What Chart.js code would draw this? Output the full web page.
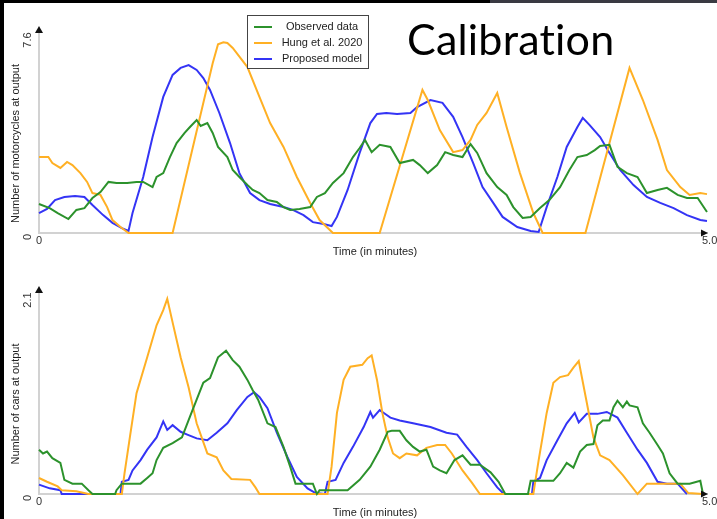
<!DOCTYPE html>
<html>
<head>
<meta charset="utf-8">
<script src="https://cdn.jsdelivr.net/npm/chart.js@4.4.1/dist/chart.umd.min.js"></script>
<style>
  html, body { margin: 0; padding: 0; background: #fff; }
  body { width: 717px; height: 519px; position: relative; overflow: hidden; }
  #barTop { position: absolute; left: 0; top: 0; width: 490px; height: 3px; background: #000; }
  #barTopRight { position: absolute; left: 490px; top: 0; width: 227px; height: 3px; background: #3a3a42; }
  #barLeft { position: absolute; left: 0; top: 0; width: 4px; height: 519px; background: #000; }
  #title { position: absolute; left: 407px; top: 17px; font-family: Lato, sans-serif; font-size: 43px; line-height: 43px;
           letter-spacing: 0.2px; font-variant-ligatures: none; font-feature-settings: "liga" 0; color: #000; }
  canvas { position: absolute; left: 0; }
  #moto { top: 0; }
  #cars { top: 260px; }
</style>
</head>
<body>
<canvas id="moto" width="717" height="260"></canvas>
<canvas id="cars" width="717" height="259"></canvas>
<div id="barTop"></div>
<div id="barTopRight"></div>
<div id="barLeft"></div>
<div id="title">Calibration</div>
<script>
// series labels and colours
const seriesNames = ['Observed data', 'Hung et al. 2020', 'Proposed model'];
const seriesColors = ['rgb(44,146,44)', 'rgb(255,176,36)', 'rgb(52,52,245)'];

// tick labels
const xTickLabels = ['0', '5.0'];
const motoYTicks = ['0', '7.6'];
const carYTicks = ['0', '2.1'];

// motorcycles at output: [time (min), count]
const motoObserved = [
  [0,1.12],[0.08,0.96],[0.14,0.77],[0.22,0.54],[0.28,0.89],[0.34,0.96],[0.40,1.35],[0.46,1.58],[0.52,1.97],[0.58,1.93],
  [0.66,1.93],[0.73,1.97],[0.78,1.97],[0.85,1.77],[0.88,2.16],[0.93,2.31],[0.98,2.93],[1.03,3.47],[1.09,3.86],[1.13,4.09],
  [1.18,4.36],[1.21,4.13],[1.26,4.24],[1.30,3.86],[1.34,3.32],[1.41,2.93],[1.45,2.43],[1.50,2.16],[1.56,1.85],[1.60,1.66],
  [1.65,1.54],[1.71,1.27],[1.78,1.20],[1.83,1.00],[1.88,0.89],[1.95,0.93],[2.03,1.00],[2.08,1.39],[2.14,1.54],[2.20,1.93],
  [2.28,2.31],[2.35,2.93],[2.40,3.28],[2.44,3.59],[2.49,3.12],[2.55,3.40],[2.63,3.32],[2.70,2.70],[2.80,2.82],[2.85,2.62],
  [2.91,2.31],[2.98,2.62],[3.04,3.12],[3.10,3.01],[3.17,2.93],[3.23,3.43],[3.28,3.09],[3.35,2.31],[3.43,1.77],[3.50,1.47],
  [3.55,1.00],[3.62,0.58],[3.68,0.62],[3.75,0.96],[3.82,1.27],[3.90,1.77],[3.97,2.43],[4.03,2.93],[4.10,3.01],[4.16,3.20],
  [4.20,3.36],[4.27,3.40],[4.33,2.55],[4.40,2.31],[4.48,2.16],[4.55,1.54],[4.63,1.66],[4.70,1.74],[4.78,1.47],[4.85,1.35],
  [4.93,1.35],[5.00,0.81]
];
const motoHung = [
  [0,2.93],[0.07,2.93],[0.10,2.70],[0.16,2.51],[0.21,2.74],[0.25,2.62],[0.31,2.31],[0.36,1.97],[0.40,1.54],[0.46,1.47],
  [0.51,1.00],[0.55,0.50],[0.61,0.23],[0.67,0],[1.00,0],[1.30,6.55],[1.34,7.28],[1.38,7.36],[1.41,7.33],[1.45,7.14],
  [1.56,6.40],[1.65,5.25],[1.73,4.24],[1.83,3.32],[1.93,2.16],[2.03,1.16],[2.10,0.50],[2.20,0],[2.55,0],[2.87,5.52],
  [2.91,5.13],[3.00,3.97],[3.10,3.12],[3.17,3.20],[3.23,3.59],[3.28,4.17],[3.35,4.63],[3.43,5.40],[3.50,4.09],[3.60,2.31],
  [3.70,0.77],[3.77,0],[4.09,0],[4.42,6.37],[4.52,5.13],[4.63,3.59],[4.70,2.43],[4.80,1.77],[4.87,1.47],[4.95,1.54],
  [5.00,1.50]
];
const motoProposed = [
  [0,0.77],[0.06,0.93],[0.12,1.27],[0.19,1.39],[0.27,1.43],[0.34,1.39],[0.40,1.08],[0.48,0.69],[0.55,0.39],[0.62,0.19],
  [0.67,0.08],[0.70,0.77],[0.78,2.16],[0.85,3.70],[0.93,5.25],[1.00,6.10],[1.06,6.37],[1.12,6.48],[1.18,6.29],[1.23,5.98],
  [1.28,5.52],[1.35,4.63],[1.43,3.47],[1.50,2.31],[1.58,1.54],[1.65,1.27],[1.73,1.12],[1.83,1.00],[1.90,0.89],[1.98,0.69],
  [2.05,0.42],[2.13,0.35],[2.19,0.27],[2.23,0.62],[2.31,1.66],[2.40,3.09],[2.48,4.24],[2.53,4.59],[2.60,4.63],[2.68,4.59],
  [2.78,4.63],[2.83,4.86],[2.93,5.13],[3.02,5.02],[3.10,4.48],[3.17,3.70],[3.25,2.70],[3.32,1.77],[3.40,1.16],[3.47,0.62],
  [3.58,0.23],[3.68,0.08],[3.74,0.04],[3.80,1.00],[3.88,2.16],[3.95,3.32],[4.03,4.09],[4.07,4.44],[4.12,4.17],[4.20,3.70],
  [4.27,3.09],[4.35,2.43],[4.45,1.85],[4.55,1.39],[4.65,1.16],[4.75,0.96],[4.85,0.69],[4.95,0.50],[5.00,0.46]
];

// cars at output: [time (min), count]
const carObserved = [
  [0,0.47],[0.03,0.43],[0.06,0.45],[0.10,0.38],[0.16,0.33],[0.19,0.15],[0.25,0.11],[0.32,0.11],[0.37,0.04],[0.40,0],
  [0.57,0],[0.58,0.04],[0.62,0.11],[0.76,0.11],[0.81,0.17],[0.85,0.22],[0.88,0.36],[0.93,0.49],[1.00,0.54],[1.07,0.60],
  [1.13,0.82],[1.18,1.00],[1.23,1.18],[1.28,1.23],[1.34,1.45],[1.40,1.52],[1.45,1.42],[1.50,1.35],[1.56,1.21],[1.60,1.10],
  [1.64,1.00],[1.71,0.75],[1.77,0.71],[1.83,0.50],[1.88,0.29],[1.92,0.11],[2.05,0.11],[2.08,0],[2.10,0.04],[2.31,0.04],
  [2.40,0.15],[2.48,0.29],[2.55,0.47],[2.61,0.66],[2.64,0.67],[2.70,0.67],[2.75,0.57],[2.80,0.50],[2.85,0.45],[2.90,0.47],
  [2.95,0.29],[3.00,0.25],[3.05,0.22],[3.11,0.36],[3.17,0.41],[3.23,0.31],[3.30,0.31],[3.38,0.23],[3.44,0.13],[3.49,0],
  [3.66,0],[3.68,0.14],[3.85,0.14],[3.90,0.22],[3.95,0.33],[4.00,0.28],[4.05,0.45],[4.10,0.52],[4.15,0.53],[4.18,0.73],
  [4.22,0.78],[4.27,0.78],[4.30,0.92],[4.33,0.99],[4.37,0.92],[4.40,0.98],[4.42,0.94],[4.48,0.92],[4.52,0.75],[4.57,0.65],
  [4.63,0.52],[4.67,0.43],[4.72,0.22],[4.78,0.11],[4.87,0.11],[4.95,0.14],[4.97,0]
];
const carHung = [
  [0,0.17],[0.06,0.13],[0.14,0.08],[0.17,0.04],[0.28,0.03],[0.37,0],[0.62,0],[0.64,0.22],[0.68,0.60],[0.73,1.07],
  [0.81,1.45],[0.88,1.79],[0.93,1.95],[0.96,2.07],[1.00,1.82],[1.06,1.45],[1.12,1.13],[1.18,0.75],[1.26,0.43],[1.33,0.39],
  [1.38,0.25],[1.44,0.16],[1.58,0.15],[1.62,0.07],[1.65,0],[2.16,0],[2.19,0.29],[2.23,0.86],[2.28,1.21],[2.33,1.35],
  [2.42,1.37],[2.46,1.44],[2.49,1.47],[2.53,1.21],[2.57,0.86],[2.61,0.60],[2.65,0.43],[2.70,0.38],[2.75,0.43],[2.83,0.41],
  [2.90,0.49],[2.98,0.52],[3.04,0.52],[3.09,0.43],[3.17,0.25],[3.24,0.12],[3.30,0],[3.70,0],[3.74,0.36],[3.80,0.86],
  [3.85,1.18],[3.90,1.24],[3.96,1.26],[4.00,1.34],[4.04,1.41],[4.10,0.97],[4.15,0.60],[4.20,0.41],[4.27,0.36],[4.37,0.20],
  [4.48,0],[4.55,0.11],[4.80,0.11],[4.86,0.01],[4.97,0]
];
const carProposed = [
  [0,0.10],[0.08,0.06],[0.16,0.04],[0.17,0],[0.61,0],[0.62,0.13],[0.67,0.15],[0.70,0.25],[0.76,0.36],[0.81,0.47],
  [0.88,0.60],[0.93,0.77],[0.96,0.68],[1.00,0.73],[1.06,0.66],[1.11,0.63],[1.18,0.59],[1.26,0.57],[1.33,0.65],[1.41,0.75],
  [1.48,0.89],[1.56,1.03],[1.61,1.08],[1.65,1.03],[1.71,0.91],[1.78,0.65],[1.86,0.39],[1.93,0.18],[2.01,0.06],[2.07,0.01],
  [2.14,0],[2.16,0.13],[2.22,0.15],[2.28,0.33],[2.35,0.50],[2.43,0.71],[2.48,0.87],[2.50,0.81],[2.55,0.89],[2.60,0.84],
  [2.63,0.81],[2.70,0.78],[2.80,0.75],[2.93,0.71],[3.05,0.65],[3.13,0.63],[3.20,0.50],[3.28,0.36],[3.35,0.22],[3.43,0.07],
  [3.48,0],[3.69,0],[3.70,0.13],[3.75,0.17],[3.80,0.36],[3.88,0.57],[3.95,0.75],[4.01,0.86],[4.04,0.76],[4.10,0.85],
  [4.18,0.85],[4.25,0.87],[4.33,0.81],[4.40,0.65],[4.48,0.47],[4.55,0.33],[4.63,0.13],[4.70,0.11],[4.78,0.11],[4.85,0]
];

const FONT = '"Liberation Sans", Arial, sans-serif';

// axis arrows, tick labels, axis titles and the boxed legend
const decor = {
  id: 'decor',
  afterDraw(chart, args, opts) {
    const {ctx, chartArea: a, scales: {x, y}} = chart;
    ctx.save();

    // y axis runs a bit past the plot top, then the arrow heads
    ctx.strokeStyle = '#d2d2d2';
    ctx.lineWidth = 2;
    ctx.beginPath();
    ctx.moveTo(a.left, a.top + 1);
    ctx.lineTo(a.left, a.top - 4);
    ctx.stroke();
    ctx.fillStyle = '#111';
    ctx.beginPath();
    ctx.moveTo(a.left - 4, a.top - 3);
    ctx.lineTo(a.left + 4, a.top - 3);
    ctx.lineTo(a.left, a.top - 10);
    ctx.closePath();
    ctx.fill();
    ctx.beginPath();
    ctx.moveTo(a.right - 6, a.bottom - 3.5);
    ctx.lineTo(a.right - 6, a.bottom + 3.5);
    ctx.lineTo(a.right + 1, a.bottom);
    ctx.closePath();
    ctx.fill();

    // tick labels
    ctx.font = '11px ' + FONT;
    ctx.fillStyle = '#333';
    ctx.textBaseline = 'middle';
    x.ticks.forEach((t, i) => {
      const px = x.getPixelForValue(t.value);
      ctx.textAlign = i === 0 ? 'center' : 'left';
      ctx.fillText(opts.xTicks[i], i === 0 ? px : px - 5, a.bottom + 8);
    });
    y.ticks.forEach((t, i) => {
      const py = y.getPixelForValue(t.value);
      ctx.save();
      ctx.translate(28, py + 4);
      ctx.rotate(-Math.PI / 2);
      ctx.textAlign = 'center';
      ctx.fillText(opts.yTicks[i], 0, 0);
      ctx.restore();
    });

    // axis titles
    ctx.fillStyle = '#222';
    ctx.textAlign = 'center';
    ctx.fillText('Time (in minutes)', (a.left + a.right) / 2 + 2, a.bottom + 19);
    ctx.save();
    ctx.translate(16, (a.top + a.bottom) / 2 + 9);
    ctx.rotate(-Math.PI / 2);
    ctx.fillText(opts.yTitle, 0, 0);
    ctx.restore();

    // legend box
    if (opts.legend) {
      ctx.fillStyle = '#fff';
      ctx.fillRect(247.5, 15.5, 121, 53);
      ctx.strokeStyle = '#444';
      ctx.lineWidth = 1;
      ctx.strokeRect(247.5, 15.5, 121, 53);
      chart.data.datasets.forEach((ds, i) => {
        const ly = 27 + i * 16;
        ctx.strokeStyle = ds.borderColor;
        ctx.lineWidth = 2;
        ctx.beginPath();
        ctx.moveTo(254, ly);
        ctx.lineTo(272, ly);
        ctx.stroke();
        ctx.fillStyle = '#222';
        ctx.textAlign = 'center';
        ctx.fillText(ds.label, 322, ly);
      });
    }
    ctx.restore();
  }
};

function toXY(rows) {
  return rows.map(r => ({x: r[0], y: r[1]}));
}

function makeChart(id, series, yMax, yTicks, yTitle, pad, legend) {
  return new Chart(document.getElementById(id), {
    type: 'line',
    data: {
      datasets: series.map((s, i) => ({
        label: seriesNames[i],
        data: toXY(s),
        borderColor: seriesColors[i],
        borderWidth: 2,
        pointRadius: 0,
        tension: 0,
        clip: false
      }))
    },
    options: {
      responsive: false,
      animation: false,
      events: [],
      layout: {padding: pad},
      plugins: {
        legend: {display: false},
        tooltip: {enabled: false},
        decor: {xTicks: xTickLabels, yTicks: yTicks, yTitle: yTitle, legend: legend}
      },
      scales: {
        x: {
          type: 'linear', min: 0, max: 5,
          afterBuildTicks: s => { s.ticks = [{value: 0}, {value: 5}]; },
          grid: {display: false, drawTicks: false},
          ticks: {display: false},
          border: {color: '#d2d2d2', width: 2}
        },
        y: {
          type: 'linear', min: 0, max: yMax,
          afterBuildTicks: s => { s.ticks = [{value: 0}, {value: yMax}]; },
          grid: {display: false, drawTicks: false},
          ticks: {display: false},
          border: {color: '#d2d2d2', width: 2}
        }
      }
    },
    plugins: [decor]
  });
}

makeChart('moto', [motoObserved, motoHung, motoProposed], 7.6, motoYTicks,
  'Number of motorcycles at output', {left: 39, top: 36, right: 10, bottom: 27}, true);
makeChart('cars', [carObserved, carHung, carProposed], 2.1, carYTicks,
  'Number of cars at output', {left: 39, top: 36, right: 10, bottom: 25}, false);
</script>
</body>
</html>
